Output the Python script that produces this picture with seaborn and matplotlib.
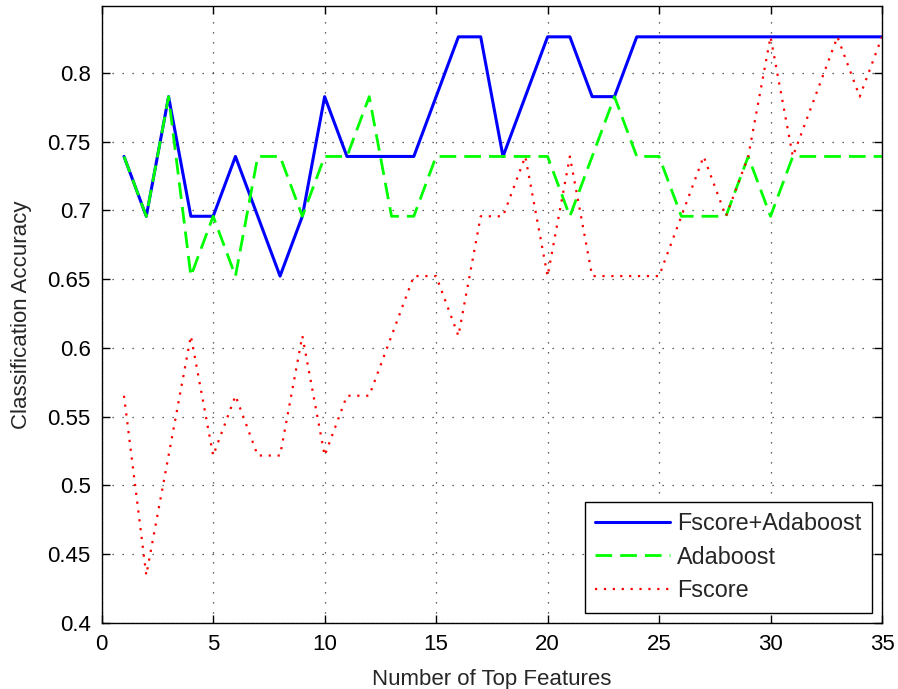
import matplotlib
matplotlib.use("Agg")
import matplotlib.pyplot as plt
from matplotlib.ticker import FuncFormatter, MultipleLocator
import numpy as np
import pandas as pd
import seaborn as sns

# ---- data (accuracies are multiples of 1/23) ----
n_features = list(range(1, 36))
fscore_adaboost = [17, 16, 18, 16, 16, 17, 16, 15, 16, 18,
                   17, 17, 17, 17, 18, 19, 19, 17, 18, 19,
                   19, 18, 18, 19, 19, 19, 19, 19, 19, 19,
                   19, 19, 19, 19, 19]
adaboost = [17, 16, 18, 15, 16, 15, 17, 17, 16, 17,
            17, 18, 16, 16, 17, 17, 17, 17, 17, 17,
            16, 17, 18, 17, 17, 16, 16, 16, 17, 16,
            17, 17, 17, 17, 17]
fscore = [13, 10, 12, 14, 12, 13, 12, 12, 14, 12,
          13, 13, 14, 15, 15, 14, 16, 16, 17, 15,
          17, 15, 15, 15, 15, 16, 17, 16, 17, 19,
          17, 18, 19, 18, 19]
n_test = 23
series_names = ["Fscore+Adaboost", "Adaboost", "Fscore"]
x_label = "Number of Top Features"
y_label = "Classification Accuracy"

df = pd.DataFrame({
    "x": n_features * 3,
    "acc": np.array(fscore_adaboost + adaboost + fscore) / n_test,
    "method": sum([[n] * len(n_features) for n in series_names], []),
})

sns.set_style("ticks")
plt.rcParams["font.family"] = ["Liberation Sans", "DejaVu Sans"]

W, H = 898, 689
fig = plt.figure(figsize=(W / 100, H / 100), dpi=100)
ax = fig.add_axes([101.7 / W, (H - 623) / H, (882 - 101.7) / W, (623 - 6) / H])

styles = {
    "Fscore+Adaboost": dict(color=(0, 0, 1), lw=2.2, ls="-"),
    "Adaboost": dict(color=(0, 1, 0), lw=2.0, ls=(0, (6, 2.9))),
    "Fscore": dict(color=(1, 0, 0), lw=1.6, ls=(0, (1, 3))),
}
for name in series_names:
    st = styles[name]
    sns.lineplot(data=df[df["method"] == name], x="x", y="acc", ax=ax,
                 color=st["color"], linewidth=st["lw"], linestyle=st["ls"],
                 label=name, estimator=None, legend=False)

ax.set_xlim(0, 35)
ax.set_ylim(0.4, 0.8485)
ax.xaxis.set_major_locator(MultipleLocator(5))
ax.yaxis.set_major_locator(MultipleLocator(0.05))
ax.yaxis.set_major_formatter(FuncFormatter(lambda v, p: f"{v:.4g}"))

ax.grid(True, color="0.2", linestyle=(0, (1, 7)), linewidth=0.9)
for s in ax.spines.values():
    s.set_visible(True)
    s.set_color("black")
    s.set_linewidth(1.0)
ax.tick_params(direction="in", length=6, width=1.0, top=True, right=True,
               labelsize=16, colors="black", pad=8)

ax.set_xlabel(x_label, fontsize=16, labelpad=10)
ax.set_ylabel(y_label, fontsize=16, labelpad=11)

handles, labels = ax.get_legend_handles_labels()
leg = ax.legend(handles, labels, loc="lower right", fontsize=16.8, frameon=True,
                fancybox=False, edgecolor="black", framealpha=1,
                handlelength=3.2, handletextpad=0.3, labelspacing=0.45,
                borderpad=0.45, borderaxespad=0.45)
leg.get_frame().set_linewidth(1.0)

fig.savefig("out.png", dpi=100)
